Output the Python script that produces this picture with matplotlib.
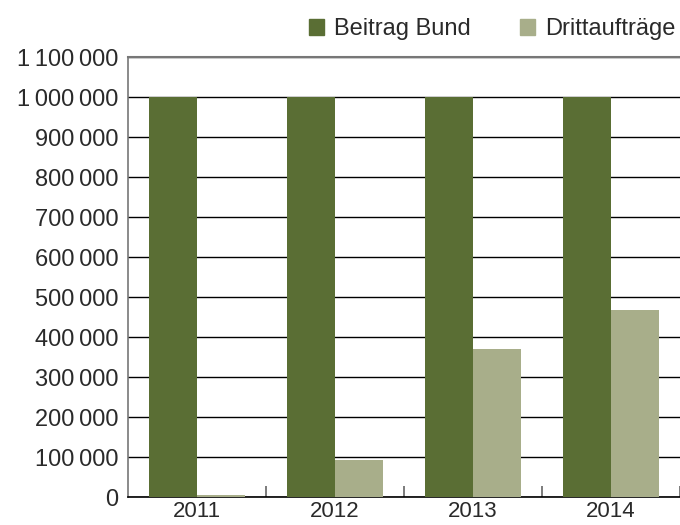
import matplotlib
matplotlib.use("Agg")
import matplotlib.pyplot as plt
from matplotlib.ticker import FuncFormatter, FixedLocator
from matplotlib.patches import Patch

years = ["2011", "2012", "2013", "2014"]
beitrag_bund = [1000000, 1000000, 1000000, 1000000]
drittauftraege = [5000, 93000, 371000, 468000]
series_names = ["Beitrag Bund", "Drittaufträge"]

dark = "#5a6e34"
light = "#a8ae8a"
text_col = "#2a2a2a"

plt.rcParams["font.family"] = ["Liberation Sans", "DejaVu Sans"]

fig = plt.figure(figsize=(6.8, 5.25), dpi=100)
ax = fig.add_axes([128 / 680, 28 / 525, 552 / 680, 440 / 525])

x = list(range(len(years)))
w = 0.35
ax.bar([i - w / 2 for i in x], beitrag_bund, width=w, color=dark, zorder=3)
ax.bar([i + w / 2 for i in x], drittauftraege, width=w, color=light, zorder=3)

ax.set_xlim(-0.5, len(years) - 0.5)
ax.set_ylim(0, 1100000)

ax.yaxis.set_major_locator(FixedLocator(range(0, 1100001, 100000)))
ax.yaxis.set_major_formatter(
    FuncFormatter(lambda v, p: f"{int(v):,}".replace(",", "\u2009"))
)
ax.grid(axis="y", color="black", linewidth=1.0, zorder=1)
ax.set_axisbelow(True)

ax.set_xticks(x)
ax.set_xticklabels(years)
ax.xaxis.set_minor_locator(FixedLocator([i + 0.5 for i in x]))
ax.tick_params(axis="x", which="major", length=0, pad=3, labelsize=16, colors=text_col)
ax.tick_params(axis="x", which="minor", direction="in", length=8, width=1.2, color="#666666")
ax.tick_params(axis="y", length=0, pad=7, labelsize=17, colors=text_col)

ax.spines["right"].set_visible(False)
ax.spines["top"].set_color("#777777")
ax.spines["top"].set_linewidth(1.5)
ax.spines["left"].set_color("#777777")
ax.spines["left"].set_linewidth(1.2)
ax.spines["bottom"].set_color("black")
ax.spines["bottom"].set_linewidth(1.2)

handles = [Patch(color=dark), Patch(color=light)]
fig.legend(handles, series_names, loc="upper right", bbox_to_anchor=(1.024, 1.006),
           ncol=2, frameon=False, fontsize=17, handlelength=0.65, handleheight=0.65,
           handletextpad=0.4, columnspacing=2.1, labelcolor=text_col)

fig.savefig("out.png", dpi=100)
